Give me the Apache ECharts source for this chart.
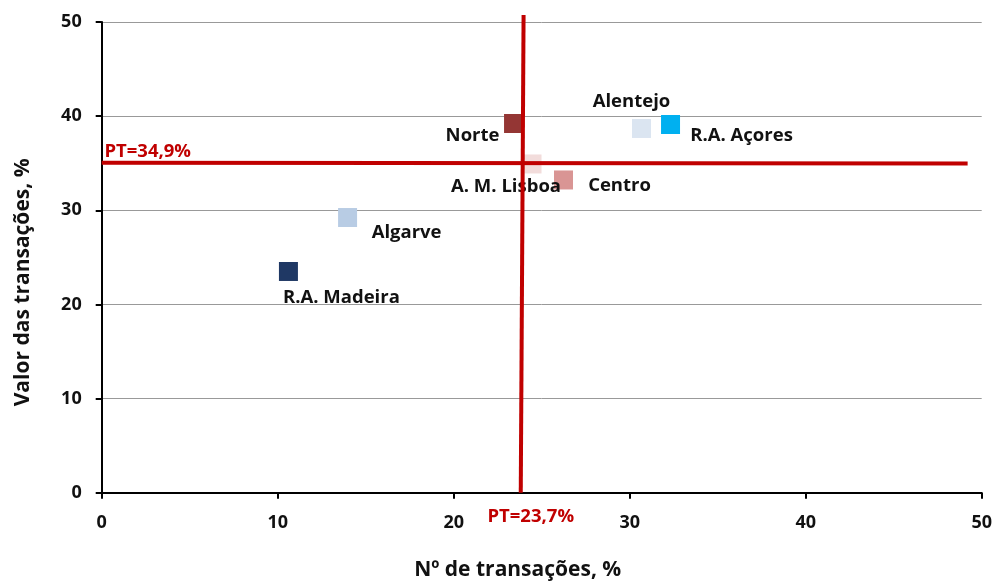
<!DOCTYPE html>
<html><head><meta charset="utf-8">
<script src="https://cdn.jsdelivr.net/npm/echarts@6/dist/echarts.min.js"></script>
<style>html,body{margin:0;padding:0;background:#fff}#c{width:997px;height:582px}</style>
</head><body><div id="c"></div>
<script>
const regions = ['R.A. Madeira','Algarve','Norte','A. M. Lisboa','Centro','Alentejo','R.A. Açores'];
const nTransacoes = [10.61, 13.97, 23.40, 24.45, 26.24, 30.67, 32.32];
const valorTransacoes = [23.50, 29.23, 39.22, 34.92, 33.22, 38.69, 39.11];
const colors = ['#1f3864','#b8cce4','#943634','#f2dcdb','#d99594','#dbe5f1','#00b0f0'];
const labelOffsets = [[53,26],[59,15],[-41,12],[-26,23],[56,6],[-10,-27],[71,11]];
const ptX = [[23.81,0],[23.97,50.74]];
const ptY = [[0,35.06],[49.2,34.96]];
const ptXLabel = 'PT=23,7%';
const ptYLabel = 'PT=34,9%';
const xTicks = [0,10,20,30,40,50];
const yTicks = [0,10,20,30,40,50];
const FONT = 'Open Sans';

const scatterData = regions.map((r,i)=>({
  name:r, value:[nTransacoes[i], valorTransacoes[i]],
  itemStyle:{color:colors[i], opacity:1},
  label:{show:true, position:'inside', offset:labelOffsets[i], formatter:r,
    color:'#111', fontFamily:FONT, fontWeight:'bold', fontSize:18.5}
}));

function ptLabel(text, offset){
  return {show:true, formatter:text, position:'inside', offset:offset,
    color:'#c00000', fontFamily:FONT, fontWeight:'bold', fontSize:18.5};
}

const chart = echarts.init(document.getElementById('c'));
chart.setOption({
  animation:false,
  grid:{left:101.7, right:15.3, top:22, bottom:89.3, outerBoundsMode:'none', containLabel:false},
  xAxis:{type:'value', min:0, max:50, interval:10,
    name:'Nº de transações, %', nameLocation:'middle', nameGap:67,
    nameTextStyle:{fontFamily:FONT, fontWeight:'bold', fontSize:21, color:'#111', padding:[0,48,0,0]},
    axisLine:{show:true, onZero:false, lineStyle:{color:'#000', width:2}},
    axisTick:{show:true, length:6, lineStyle:{color:'#000', width:2}},
    axisLabel:{fontFamily:FONT, fontWeight:'bold', fontSize:18, color:'#111', margin:21,
      formatter:v=>xTicks.includes(v)?String(v):''},
    splitLine:{show:false}},
  yAxis:{type:'value', min:0, max:50, interval:10,
    name:'Valor das transações, %', nameLocation:'middle', nameGap:68,
    nameTextStyle:{fontFamily:FONT, fontWeight:'bold', fontSize:21, color:'#111', padding:[0,50,0,0]},
    axisLine:{show:true, onZero:false, lineStyle:{color:'#000', width:2}},
    axisTick:{show:true, length:6, lineStyle:{color:'#000', width:2}},
    axisLabel:{fontFamily:FONT, fontWeight:'bold', fontSize:18, color:'#111', margin:20,
      formatter:v=>yTicks.includes(v)?String(v):''},
    splitLine:{show:true, lineStyle:{color:'#999', width:1}}},
  series:[
    {type:'scatter', symbol:'rect', symbolSize:19, data:scatterData, z:2},
    {type:'line', clip:false, symbol:'circle', symbolSize:1, showSymbol:true, z:3,
      itemStyle:{color:'rgba(0,0,0,0)'},
      lineStyle:{color:'#c00000', width:4},
      data:[{value:ptY[0], label:ptLabel(ptYLabel,[46,-11])}, {value:ptY[1]}]},
    {type:'line', clip:false, symbol:'circle', symbolSize:1, showSymbol:true, z:3,
      itemStyle:{color:'rgba(0,0,0,0)'},
      lineStyle:{color:'#c00000', width:4},
      data:[{value:ptX[0], label:ptLabel(ptXLabel,[10,24])}, {value:ptX[1]}]}
  ]
});
</script></body></html>
